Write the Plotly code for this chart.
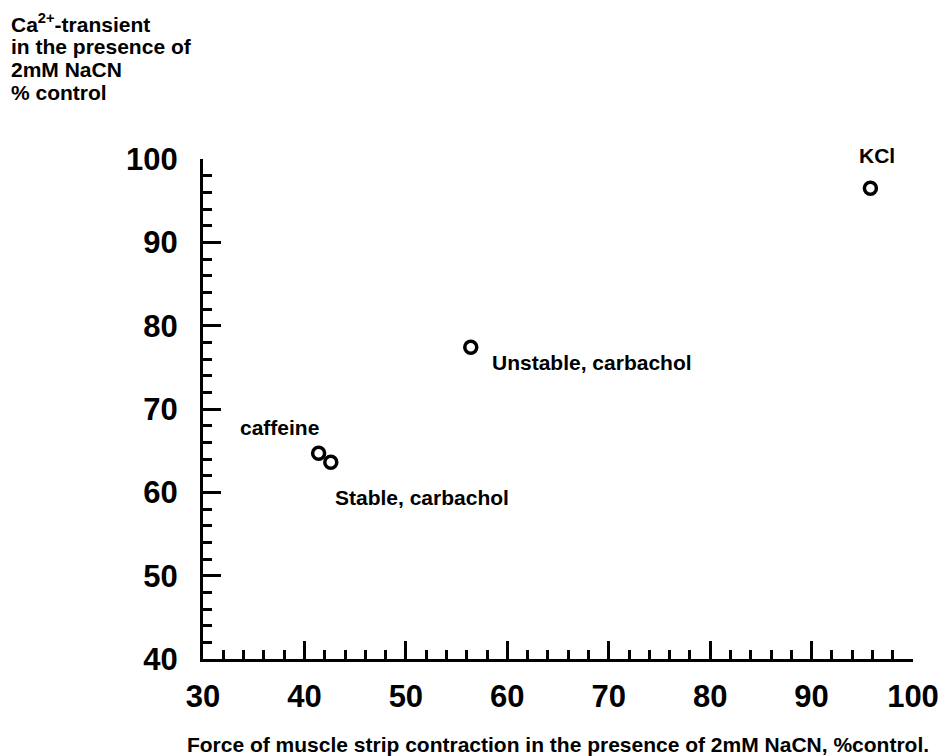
import plotly.graph_objects as go

# valores
nombres = ['caffeine', 'Stable, carbachol', 'Unstable, carbachol', 'KCl']
fuerza = [41.4, 42.6, 56.4, 95.8]
calcio = [64.7, 63.6, 77.4, 96.5]
x_ticks = [30, 40, 50, 60, 70, 80, 90, 100]
y_ticks = [40, 50, 60, 70, 80, 90, 100]

fuente = 'Liberation Sans'
f_texto = dict(family=fuente, size=21, color='black', weight='bold')

fig = go.Figure()
fig.add_trace(go.Scatter(
    x=fuerza, y=calcio, mode='markers',
    marker=dict(symbol='circle-open', size=12, color='black', line=dict(width=3.5, color='black')),
    cliponaxis=False, showlegend=False))

# posición de cada etiqueta respecto a su punto
desplaz = {
    'caffeine': dict(xshift=-39, yshift=26, xanchor='center'),
    'Stable, carbachol': dict(xshift=2, yshift=-35, xanchor='left'),
    'Unstable, carbachol': dict(xshift=19, yshift=-15, xanchor='left'),
    'KCl': dict(xshift=7, yshift=33, xanchor='center'),
}
for n, xv, yv in zip(nombres, fuerza, calcio):
    fig.add_annotation(x=xv, y=yv, text=n, showarrow=False, yanchor='middle',
                       font=f_texto, **desplaz[n])

# título del eje y, arriba a la izquierda
lineas = ['Ca<sup>2+</sup>-transient', 'in the presence of', '2mM NaCN', '% control']
for i, t in enumerate(lineas):
    fig.add_annotation(x=-0.2737, y=(659 - 23 - 23 * i) / 500, xref='paper', yref='paper',
                       text=t, showarrow=False, xanchor='left', yanchor='middle',
                       font=f_texto)

ejes = dict(showline=True, linewidth=3, linecolor='black', showgrid=False, zeroline=False,
            automargin=False,
            ticks='inside', ticklen=18, tickwidth=2.5, tickcolor='black',
            tickfont=dict(family=fuente, size=31, color='black', weight='bold'),
            minor=dict(ticks='inside', ticklen=9, tickwidth=2.5, tickcolor='black', dtick=2))

fig.update_xaxes(range=[30, 100], tickvals=x_ticks, ticklabelstandoff=8,
                 title=dict(text='Force of muscle strip contraction in the presence of 2mM NaCN, %control.',
                            font=f_texto, standoff=25),
                 **ejes)
fig.update_yaxes(range=[40, 100], tickvals=y_ticks, ticklabelstandoff=16, **ejes)

fig.update_layout(width=951, height=756, plot_bgcolor='white', paper_bgcolor='white',
                  margin=dict(l=202.5, r=38, t=159, b=97),
                  font=dict(family=fuente, color='black'))

# quitar el margen del body para que la figura ocupe la ventana
fig.write_html("out.html", config={'displayModeBar': False},
               post_script="document.body.style.margin='0';")
